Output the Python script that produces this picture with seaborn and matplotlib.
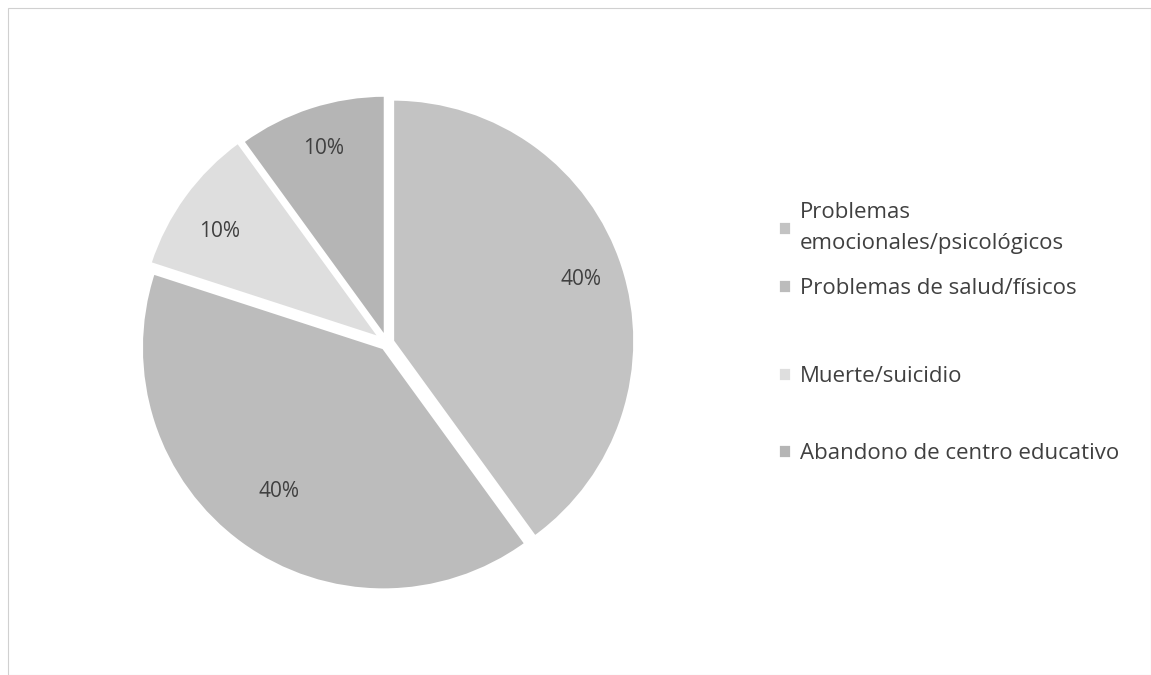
import matplotlib
matplotlib.use("Agg")
import matplotlib.pyplot as plt
import seaborn as sns
from matplotlib.patches import Rectangle

categorias = ["Problemas\nemocionales/psicológicos", "Problemas de salud/físicos",
              "Muerte/suicidio", "Abandono de centro educativo"]
porcentajes = [40, 40, 10, 10]
colores = ["#c3c3c3", "#bcbcbc", "#dedede", "#b5b5b5"]

sns.set_theme(style="white")
plt.rcParams['font.family'] = ['Open Sans', 'DejaVu Sans']

fig = plt.figure(figsize=(11.51, 6.75), dpi=100)
fig.patch.set_facecolor("white")
# marco fino del escaneo
fig.add_artist(Rectangle((8 / 1151, 0.0), 1 - 8 / 1151, 1 - 8 / 675, transform=fig.transFigure,
                         fill=False, edgecolor="#d0d0d0", linewidth=0.8))

ax = fig.add_axes([127 / 1151, 72 / 675, 520 / 1151, 520 / 675])
wedges, texts, autotexts = ax.pie(
    porcentajes, colors=colores, startangle=90, counterclock=False,
    explode=[0.025, 0.025, 0.035, 0.025],
    autopct=lambda p: f"{p:.0f}%", pctdistance=0.82,
    wedgeprops=dict(edgecolor="white", linewidth=2),
    textprops=dict(fontsize=15, color="#404040"))
x, y = autotexts[1].get_position()
autotexts[1].set_position((x * 0.9, y * 0.9))
x, y = autotexts[2].get_position()
autotexts[2].set_position((x, y - 0.04))
ax.set_xlim(-1.075, 1.075)
ax.set_ylim(-1.075, 1.075)
ax.set_aspect("equal")

# leyenda en dos bloques, como en el original (espaciado irregular)
opts = dict(loc="upper left", frameon=False, fontsize=16, handlelength=0.6, handleheight=0.6,
            handletextpad=0.4, labelcolor="#404040")
leg1 = fig.legend(wedges[:2], categorias[:2], bbox_to_anchor=(758 / 1151, 1 - 182 / 675),
                  labelspacing=1.1, **opts)
for t in leg1.get_texts():
    t.set_linespacing(1.6)
leg2 = fig.legend(wedges[2:], categorias[2:], bbox_to_anchor=(758 / 1151, 1 - 346 / 675),
                  labelspacing=2.5, **opts)

fig.savefig("out.png", dpi=100)
